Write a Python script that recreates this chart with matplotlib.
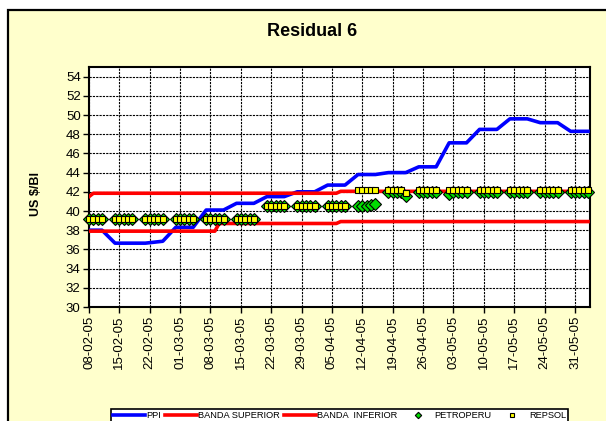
import pandas as pd
import matplotlib
matplotlib.use("Agg")
import matplotlib.pyplot as plt
import matplotlib.dates as mdates
from matplotlib.patches import Rectangle

plt.rcParams["font.family"] = ["Liberation Sans", "DejaVu Sans"]

# =============================
# DATOS (días hábiles 08-02-05 a 03-06-05)
# =============================
fechas = pd.bdate_range("2005-02-08", "2005-06-03")

ppi = [
    38.0, 38.0, 38.0, 38.0,
    36.65, 36.65, 36.65, 36.65, 36.65,
    36.65, 36.7, 36.75, 36.8, 36.85,
    38.3, 38.3, 38.3, 38.3, 38.3,
    40.1, 40.1, 40.1, 40.1, 40.1,
    40.8, 40.8, 40.8, 40.8, 40.8,
    41.5, 41.5, 41.5, 41.5, 41.5,
    42.0, 42.0, 42.0, 42.0, 42.0,
    42.7, 42.7, 42.7, 42.7, 42.7,
    43.8, 43.8, 43.8, 43.8, 43.8,
    44.0, 44.0, 44.0, 44.0, 44.0,
    44.6, 44.6, 44.6, 44.6, 44.6,
    47.1, 47.1, 47.1, 47.1, 47.1,
    48.5, 48.5, 48.5, 48.5, 48.5,
    49.6, 49.6, 49.6, 49.6, 49.6,
    49.2, 49.2, 49.2, 49.2, 49.2,
    48.3, 48.3, 48.3, 48.3, 48.3,
]

banda_sup = [
    41.5, 41.85, 41.85, 41.85,
    41.85, 41.85, 41.85, 41.85, 41.85,
    41.85, 41.85, 41.85, 41.85, 41.85,
    41.85, 41.85, 41.85, 41.85, 41.85,
    41.85, 41.85, 41.85, 41.85, 41.85,
    41.85, 41.85, 41.85, 41.85, 41.85,
    41.85, 41.85, 41.85, 41.85, 41.85,
    41.85, 41.85, 41.85, 41.85, 41.85,
    41.85, 41.85, 41.85, 42.05, 42.05,
    42.05, 42.05, 42.05, 42.05, 42.05,
    42.05, 42.05, 42.05, 42.05, 42.05,
    42.05, 42.05, 42.05, 42.05, 42.05,
    42.05, 42.05, 42.05, 42.05, 42.05,
    42.05, 42.05, 42.05, 42.05, 42.05,
    42.05, 42.05, 42.05, 42.05, 42.05,
    42.05, 42.05, 42.05, 42.05, 42.05,
    42.05, 42.05, 42.05, 42.05, 42.05,
]

banda_inf = [
    37.9, 37.9, 37.9, 37.9,
    37.9, 37.9, 37.9, 37.9, 37.9,
    37.9, 37.9, 37.9, 37.9, 37.9,
    37.9, 37.9, 37.9, 37.9, 37.9,
    37.9, 37.9, 37.9, 38.7, 38.7,
    38.7, 38.7, 38.7, 38.7, 38.7,
    38.7, 38.7, 38.7, 38.7, 38.7,
    38.7, 38.7, 38.7, 38.7, 38.7,
    38.7, 38.7, 38.7, 38.9, 38.9,
    38.9, 38.9, 38.9, 38.9, 38.9,
    38.9, 38.9, 38.9, 38.9, 38.9,
    38.9, 38.9, 38.9, 38.9, 38.9,
    38.9, 38.9, 38.9, 38.9, 38.9,
    38.9, 38.9, 38.9, 38.9, 38.9,
    38.9, 38.9, 38.9, 38.9, 38.9,
    38.9, 38.9, 38.9, 38.9, 38.9,
    38.9, 38.9, 38.9, 38.9, 38.9,
]

petroperu = [
    39.2, 39.2, 39.2, 39.2,
    39.2, 39.2, 39.2, 39.2, 39.2,
    39.2, 39.2, 39.2, 39.2, 39.2,
    39.2, 39.2, 39.2, 39.2, 39.2,
    39.2, 39.2, 39.2, 39.2, 39.2,
    39.2, 39.2, 39.2, 39.2, 39.2,
    40.5, 40.5, 40.5, 40.5, 40.5,
    40.5, 40.5, 40.5, 40.5, 40.5,
    40.5, 40.5, 40.5, 40.5, 40.5,
    40.5, 40.5, 40.55, 40.6, 40.7,
    42.0, 42.0, 42.0, 42.0, 41.6,
    41.95, 41.95, 41.95, 41.95, 41.95,
    41.75, 41.95, 41.95, 41.95, 41.95,
    41.95, 41.95, 41.95, 41.95, 41.95,
    41.95, 41.95, 41.95, 41.95, 41.95,
    41.95, 41.95, 41.95, 41.95, 41.95,
    41.95, 41.95, 41.95, 41.95, 41.95,
]

repsol = [
    39.2, 39.2, 39.2, 39.2,
    39.2, 39.2, 39.2, 39.2, 39.2,
    39.2, 39.2, 39.2, 39.2, 39.2,
    39.2, 39.2, 39.2, 39.2, 39.2,
    39.2, 39.2, 39.2, 39.2, 39.2,
    39.2, 39.2, 39.2, 39.2, 39.2,
    40.5, 40.5, 40.5, 40.5, 40.5,
    40.5, 40.5, 40.5, 40.5, 40.5,
    40.5, 40.5, 40.5, 40.5, 40.5,
    42.15, 42.15, 42.15, 42.15, 42.15,
    42.15, 42.15, 42.15, 42.15, 41.9,
    42.15, 42.15, 42.15, 42.15, 42.15,
    42.15, 42.15, 42.15, 42.15, 42.15,
    42.15, 42.15, 42.15, 42.15, 42.15,
    42.15, 42.15, 42.15, 42.15, 42.15,
    42.15, 42.15, 42.15, 42.15, 42.15,
    42.15, 42.15, 42.15, 42.15, 42.15,
]

ticks = pd.date_range("2005-02-08", "2005-05-31", freq="7D")

# =============================
# GRÁFICO
# =============================
W, H = 606, 421
fig = plt.figure(figsize=(W / 100, H / 100), dpi=100, facecolor="white")

# marco exterior amarillo
fig.patches.append(Rectangle((8 / W, -0.1), 1.2, 1 - 10 / H + 0.1,
                             transform=fig.transFigure, facecolor="#FFFFCC",
                             edgecolor="black", linewidth=1.6, zorder=-10))

ax = fig.add_axes([89 / W, 1 - 307 / H, (590 - 89) / W, (307 - 67) / H])
ax.set_facecolor("white")

ax.plot(fechas, ppi, color="#0000FF", lw=2.6, label="PPI", zorder=3)
ax.plot(fechas, banda_sup, color="#FF0000", lw=2.6, label="BANDA SUPERIOR", zorder=3)
ax.plot(fechas, banda_inf, color="#FF0000", lw=2.6, label="BANDA  INFERIOR", zorder=3)
ax.plot(fechas, petroperu, ls="none", marker="D", ms=6.5, mfc="#00DD00", mec="black",
        mew=0.8, label="PETROPERU", zorder=4, clip_on=False)
ax.plot(fechas, repsol, ls="none", marker="s", ms=4.5, mfc="#FFFF00", mec="black",
        mew=0.8, label="REPSOL", zorder=5, clip_on=False)

ax.set_ylim(30, 55)
ax.set_yticks(range(30, 55, 2))
ax.set_xlim(pd.Timestamp("2005-02-08"), pd.Timestamp("2005-06-03 11:00"))
ax.set_xticks(ticks)
ax.xaxis.set_major_formatter(mdates.DateFormatter("%d-%m-%y"))
plt.setp(ax.get_xticklabels(), rotation=90)

ax.grid(True, color="black", linestyle=(0, (2, 1)), linewidth=0.8)
ax.set_axisbelow(True)
for s in ax.spines.values():
    s.set_linewidth(1.5)
ax.tick_params(axis="both", direction="out", length=4, width=1,
               labelsize=9.5, colors="black", pad=2)

fig.text(0.515, 1 - 32 / H, "Residual 6", ha="center", va="center",
         fontsize=13, fontweight="bold")
fig.text(36 / W, 1 - 194 / H, "US $/BI", ha="center", va="center",
         rotation=90, fontsize=9, fontweight="bold")

leg = fig.legend(loc="upper left", bbox_to_anchor=(111 / W, 1 - 409 / H),
                 ncol=5, fontsize=6.7, frameon=True, fancybox=False,
                 edgecolor="black", facecolor="white", framealpha=1,
                 handlelength=3.4, handletextpad=0.1, columnspacing=0.5,
                 borderpad=0.25, borderaxespad=0, markerscale=0.5)
leg.get_frame().set_linewidth(1.2)

fig.savefig("out.png", dpi=100, facecolor=fig.get_facecolor())
